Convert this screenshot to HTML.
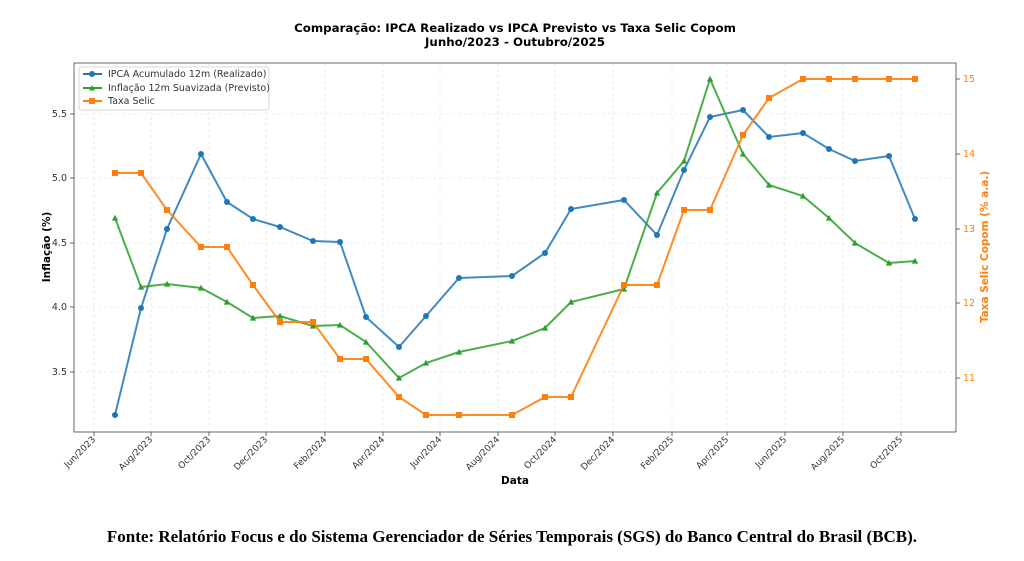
<!DOCTYPE html>
<html><head><meta charset="utf-8"><style>
html,body{margin:0;padding:0;background:#fff;}
svg{display:block;font-family:"DejaVu Sans","Liberation Sans",sans-serif;}
</style></head><body>
<svg width="1024" height="561" viewBox="0 0 1024 561">
<defs>
<marker id="mc" markerWidth="8" markerHeight="8" refX="4" refY="4" markerUnits="userSpaceOnUse"><circle cx="4" cy="4" r="3" fill="#1f77b4"/></marker>
<marker id="mt" markerWidth="8" markerHeight="8" refX="4" refY="4" markerUnits="userSpaceOnUse"><polygon points="4,0.8 7.2,6.6 0.8,6.6" fill="#2ca02c"/></marker>
<marker id="ms" markerWidth="8" markerHeight="8" refX="4" refY="4" markerUnits="userSpaceOnUse"><rect x="1" y="1" width="6" height="6" fill="#ff7f0e"/></marker>
</defs>
<text x="515" y="32" text-anchor="middle" font-size="11.8" font-weight="bold" fill="#000">Comparação: IPCA Realizado vs IPCA Previsto vs Taxa Selic Copom</text>
<text x="515" y="46" text-anchor="middle" font-size="11.8" font-weight="bold" fill="#000">Junho/2023 - Outubro/2025</text>
<g stroke="#ddd" stroke-width="0.6" stroke-dasharray="3,3">
<line x1="74" x2="956" y1="114" y2="114"/><line x1="74" x2="956" y1="178" y2="178"/><line x1="74" x2="956" y1="243" y2="243"/><line x1="74" x2="956" y1="307" y2="307"/><line x1="74" x2="956" y1="372" y2="372"/>
<line x1="94" x2="94" y1="63" y2="432"/><line x1="151" x2="151" y1="63" y2="432"/><line x1="209" x2="209" y1="63" y2="432"/><line x1="266" x2="266" y1="63" y2="432"/><line x1="325" x2="325" y1="63" y2="432"/><line x1="383" x2="383" y1="63" y2="432"/><line x1="440" x2="440" y1="63" y2="432"/><line x1="498" x2="498" y1="63" y2="432"/><line x1="555" x2="555" y1="63" y2="432"/><line x1="613" x2="613" y1="63" y2="432"/><line x1="672" x2="672" y1="63" y2="432"/><line x1="727" x2="727" y1="63" y2="432"/><line x1="785" x2="785" y1="63" y2="432"/><line x1="843" x2="843" y1="63" y2="432"/><line x1="901" x2="901" y1="63" y2="432"/>
</g>
<rect x="74" y="63" width="882" height="369" fill="none" stroke="#444" stroke-width="0.8"/>
<g stroke="#444" stroke-width="0.8">
<line x1="70" x2="74" y1="114" y2="114"/><line x1="70" x2="74" y1="178" y2="178"/><line x1="70" x2="74" y1="243" y2="243"/><line x1="70" x2="74" y1="307" y2="307"/><line x1="70" x2="74" y1="372" y2="372"/>
<line x1="956" x2="960" y1="79" y2="79"/><line x1="956" x2="960" y1="154" y2="154"/><line x1="956" x2="960" y1="229" y2="229"/><line x1="956" x2="960" y1="303" y2="303"/><line x1="956" x2="960" y1="378" y2="378"/>
<line x1="94" x2="94" y1="432" y2="436"/><line x1="151" x2="151" y1="432" y2="436"/><line x1="209" x2="209" y1="432" y2="436"/><line x1="266" x2="266" y1="432" y2="436"/><line x1="325" x2="325" y1="432" y2="436"/><line x1="383" x2="383" y1="432" y2="436"/><line x1="440" x2="440" y1="432" y2="436"/><line x1="498" x2="498" y1="432" y2="436"/><line x1="555" x2="555" y1="432" y2="436"/><line x1="613" x2="613" y1="432" y2="436"/><line x1="672" x2="672" y1="432" y2="436"/><line x1="727" x2="727" y1="432" y2="436"/><line x1="785" x2="785" y1="432" y2="436"/><line x1="843" x2="843" y1="432" y2="436"/><line x1="901" x2="901" y1="432" y2="436"/>
</g>
<g font-size="9.5" fill="#333" text-anchor="end">
<text x="67" y="117">5.5</text><text x="67" y="181">5.0</text><text x="67" y="246">4.5</text><text x="67" y="310">4.0</text><text x="67" y="375">3.5</text>
</g>
<g font-size="9.5" fill="#ff7f0e">
<text x="963" y="82">15</text><text x="963" y="157">14</text><text x="963" y="232">13</text><text x="963" y="306">12</text><text x="963" y="381">11</text>
</g>
<g font-size="9" fill="#333" text-anchor="end">
<text transform="translate(96,440) rotate(-45)">Jun/2023</text>
<text transform="translate(153,440) rotate(-45)">Aug/2023</text>
<text transform="translate(211,440) rotate(-45)">Oct/2023</text>
<text transform="translate(268,440) rotate(-45)">Dec/2023</text>
<text transform="translate(327,440) rotate(-45)">Feb/2024</text>
<text transform="translate(385,440) rotate(-45)">Apr/2024</text>
<text transform="translate(442,440) rotate(-45)">Jun/2024</text>
<text transform="translate(500,440) rotate(-45)">Aug/2024</text>
<text transform="translate(557,440) rotate(-45)">Oct/2024</text>
<text transform="translate(615,440) rotate(-45)">Dec/2024</text>
<text transform="translate(674,440) rotate(-45)">Feb/2025</text>
<text transform="translate(729,440) rotate(-45)">Apr/2025</text>
<text transform="translate(787,440) rotate(-45)">Jun/2025</text>
<text transform="translate(845,440) rotate(-45)">Aug/2025</text>
<text transform="translate(903,440) rotate(-45)">Oct/2025</text>
</g>
<text x="515" y="484" text-anchor="middle" font-size="10.5" font-weight="bold">Data</text>
<text transform="translate(50,247) rotate(-90)" text-anchor="middle" font-size="10.5" font-weight="bold">Inflação (%)</text>
<text transform="translate(988,247) rotate(-90)" text-anchor="middle" font-size="10.5" font-weight="bold" fill="#ff7f0e">Taxa Selic Copom (% a.a.)</text>
<polyline fill="none" stroke="#1f77b4" stroke-width="2" stroke-opacity="0.85" marker-start="url(#mc)" marker-mid="url(#mc)" marker-end="url(#mc)" points="115,415 141,308 167,229 201,154 227,202 253,219 280,227 313,241 340,242 366,317 399,347 426,316 459,278 512,276 545,253 571,209 624,200 657,235 684,170 710,117 743,110 769,137 803,133 829,149 855,161 889,156 915,219"/>
<polyline fill="none" stroke="#2ca02c" stroke-width="2" stroke-opacity="0.85" marker-start="url(#mt)" marker-mid="url(#mt)" marker-end="url(#mt)" points="115,218 141,287 167,284 201,288 227,302 253,318 280,316 313,326 340,325 366,342 399,378 426,363 459,352 512,341 545,328 571,302 624,289 657,193 684,161 710,79 743,154 769,185 803,196 829,218 855,243 889,263 915,261"/>
<polyline fill="none" stroke="#ff7f0e" stroke-width="2" stroke-opacity="0.9" marker-start="url(#ms)" marker-mid="url(#ms)" marker-end="url(#ms)" points="115,173 141,173 167,210 201,247 227,247 253,285 280,322 313,322 340,359 366,359 399,397 426,415 459,415 512,415 545,397 571,397 624,285 657,285 684,210 710,210 743,135 769,98 803,79 829,79 855,79 889,79 915,79"/>
<rect x="79" y="67" width="190" height="43" rx="2" fill="#fff" fill-opacity="0.85" stroke="#ccc" stroke-width="0.8"/>
<line x1="83" x2="102" y1="74" y2="74" stroke="#1f77b4" stroke-width="2"/><circle cx="92" cy="74" r="3" fill="#1f77b4"/>
<line x1="83" x2="102" y1="88" y2="88" stroke="#2ca02c" stroke-width="2"/><polygon points="92,85 95,90.5 89,90.5" fill="#2ca02c"/>
<line x1="83" x2="102" y1="101" y2="101" stroke="#ff7f0e" stroke-width="2"/><rect x="89" y="98" width="6" height="6" fill="#ff7f0e"/>
<g font-size="9.5" fill="#333">
<text x="108" y="77">IPCA Acumulado 12m (Realizado)</text>
<text x="108" y="91">Inflação 12m Suavizada (Previsto)</text>
<text x="108" y="104">Taxa Selic</text>
</g>
<text x="512" y="542" text-anchor="middle" font-family="'Liberation Serif',serif" font-size="17" font-weight="bold">Fonte: Relatório Focus e do Sistema Gerenciador de Séries Temporais (SGS) do Banco Central do Brasil (BCB).</text>
</svg>
</body></html>
